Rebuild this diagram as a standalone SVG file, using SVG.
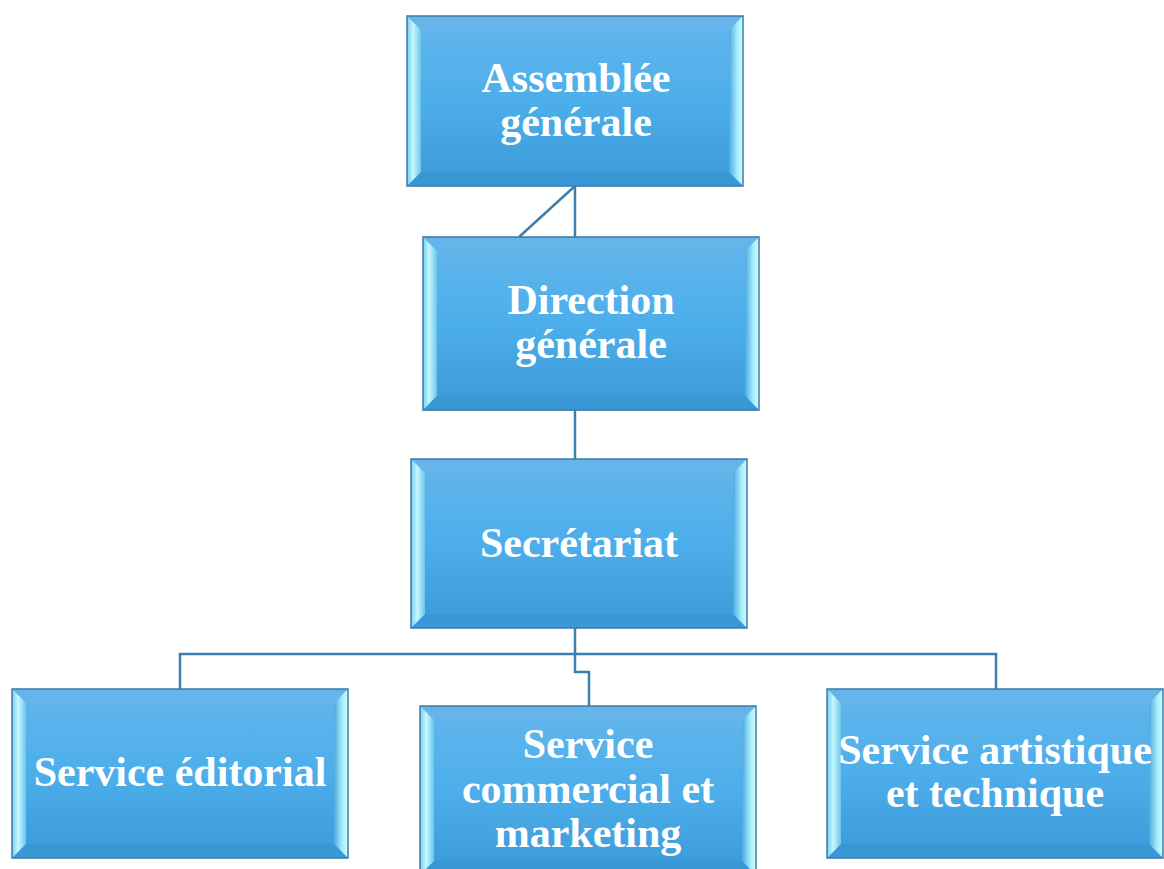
<svg xmlns="http://www.w3.org/2000/svg" xmlns:xlink="http://www.w3.org/1999/xlink" width="1164" height="869" viewBox="0 0 1164 869">
<style>
.lbl{font-family:"Liberation Serif","Times New Roman",serif;font-weight:bold;font-size:42px;fill:#ffffff;text-anchor:middle}
.con{fill:none;stroke:#3c7fae;stroke-width:2.5}
</style>
<defs>
<linearGradient id="gFace" x1="0" y1="0" x2="0" y2="1">
<stop offset="0" stop-color="#64b6ec"/>
<stop offset="0.5" stop-color="#4caeea"/>
<stop offset="1" stop-color="#3b9ad8"/>
</linearGradient>
<linearGradient id="gL" x1="0" y1="0" x2="1" y2="0">
<stop offset="0" stop-color="#78cdf1"/>
<stop offset="0.45" stop-color="#c6f8fd"/>
<stop offset="1" stop-color="#6cc4ec"/>
</linearGradient>
<linearGradient id="gR" x1="0" y1="0" x2="1" y2="0">
<stop offset="0" stop-color="#4fa9e0"/>
<stop offset="0.6" stop-color="#a6eefa"/>
<stop offset="1" stop-color="#d2fbfe"/>
</linearGradient>
<g id="box">
<rect x="0" y="0" width="336" height="169" fill="url(#gFace)"/>
<polygon points="0,0 336,0 322,14 14,14" fill="#66b5ea"/>
<polygon points="0,169 336,169 322,155 14,155" fill="#3a97d6"/>
<polygon points="0,0 14,14 14,155 0,169" fill="url(#gL)"/>
<polygon points="336,0 322,14 322,155 336,169" fill="url(#gR)"/>
<rect x="0" y="0" width="336" height="169" fill="none" stroke="#3d7aa6" stroke-width="1.5"/>
</g>
</defs>

<g id="connectors">
<line class="con" x1="575" y1="186" x2="575" y2="237"/>
<line class="con" x1="575" y1="186" x2="519" y2="237"/>
<line class="con" x1="575" y1="410" x2="575" y2="459"/>
<polyline class="con" points="575,627 575,672 589,672 589,706"/>
<polyline class="con" points="180,689 180,654 996,654 996,689"/>
</g>

<g id="assemblee">
<use xlink:href="#box" transform="translate(407,16) scale(1,1.006)"/>
<text class="lbl" x="576" y="92">Assemblée</text>
<text class="lbl" x="576" y="136">générale</text>
</g>

<g id="direction">
<use xlink:href="#box" transform="translate(423,237) scale(1,1.024)"/>
<text class="lbl" x="591" y="314">Direction</text>
<text class="lbl" x="591" y="358">générale</text>
</g>

<g id="secretariat">
<use xlink:href="#box" x="411" y="459"/>
<text class="lbl" x="579" y="557">Secrétariat</text>
</g>

<g id="editorial">
<use xlink:href="#box" x="12" y="689"/>
<text class="lbl" x="180" y="786">Service éditorial</text>
</g>

<g id="commercial">
<use xlink:href="#box" x="420" y="706"/>
<text class="lbl" x="588" y="758">Service</text>
<text class="lbl" x="588" y="803">commercial et</text>
<text class="lbl" x="588" y="847">marketing</text>
</g>

<g id="artistique">
<use xlink:href="#box" x="827" y="689"/>
<text class="lbl" x="995" y="764">Service artistique</text>
<text class="lbl" x="995" y="807">et technique</text>
</g>
</svg>
